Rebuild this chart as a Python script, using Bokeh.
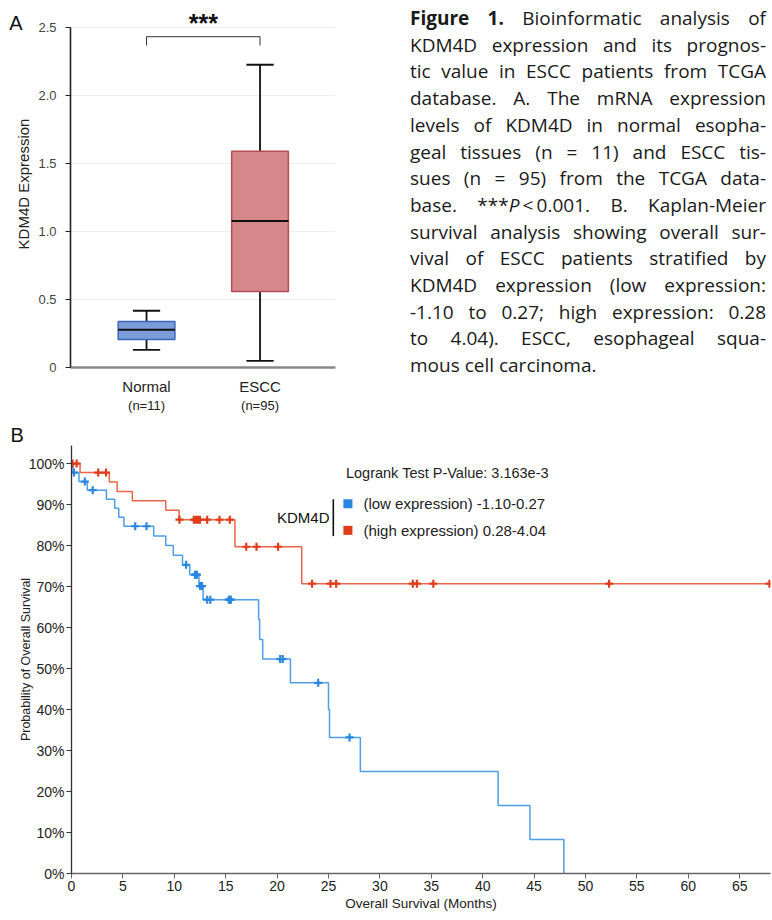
import numpy as np
from bokeh.plotting import figure
from bokeh.models import Label, BoxAnnotation, FixedTicker, Div, Range1d, LinearAxis
from bokeh.layouts import column, row
from bokeh.embed import file_html
from bokeh.resources import INLINE

FONT = "Liberation Sans"

# ---------------- Panel A data (box plot) ----------------
groups = ["Normal", "ESCC"]
group_n = ["(n=11)", "(n=95)"]
box_lower = [0.130, 0.049]
box_q1 = [0.206, 0.559]
box_median = [0.277, 1.076]
box_q3 = [0.338, 1.588]
box_upper = [0.417, 2.224]
box_fill = ["#7b9cd9", "#d6878a"]
box_edge = ["#3d66bb", "#b24d52"]
a_yticks = [0, 0.5, 1.0, 1.5, 2.0, 2.5]
a_ytick_labels = ["0", "0.5", "1.0", "1.5", "2.0", "2.5"]
signif_text = "***"

# ---------------- Panel B data (Kaplan-Meier) ----------------
low_event_times = [0.15, 0.73, 1.54, 3.4, 4.2, 4.6, 5.1, 8.0, 9.17, 9.9, 10.8, 11.5,
                   12.4, 12.8, 18.2, 18.3, 18.6, 21.3, 25.0, 25.1, 28.1, 41.5, 44.6, 47.9]
low_surv = [97.8, 95.6, 93.5, 91.3, 89.1, 86.9, 84.7, 82.3, 80.0, 77.6, 75.3, 72.9,
            70.1, 66.8, 62.0, 57.1, 52.3, 46.5, 40.0, 33.2, 24.9, 16.6, 8.3, 0.0]
low_censor_times = [0.24, 1.3, 2.06, 6.2, 7.3, 11.15, 12.0, 12.1, 12.2, 12.5, 12.7,
                    13.2, 13.5, 15.3, 15.4, 15.5, 20.3, 20.55, 24.0, 27.05]
high_event_times = [0.83, 3.68, 4.44, 5.92, 9.17, 10.47, 15.9, 22.4]
high_surv = [97.8, 95.5, 93.2, 90.9, 88.6, 86.3, 79.7, 70.7]
high_censor_times = [0.1, 0.5, 2.6, 3.36, 10.5, 11.9, 12.1, 12.3, 12.5, 13.2, 14.4, 15.4,
                     17.0, 18.0, 20.1, 23.4, 25.2, 25.75, 33.2, 33.6, 35.2, 52.3, 67.9]
b_xticks = [0, 5, 10, 15, 20, 25, 30, 35, 40, 45, 50, 55, 60, 65]
b_yticks = [0, 10, 20, 30, 40, 50, 60, 70, 80, 90, 100]
legend_title = "KDM4D"
legend_labels = ["(low expression) -1.10-0.27", "(high expression) 0.28-4.04"]
pvalue_text = "Logrank Test P-Value: 3.163e-3"
low_line, low_mark = "#4d9de9", "#2a86df"
high_line, high_mark = "#e8664a", "#e03c1c"

caption_lines = [
    "<b>Figure 1.</b> Bioinformatic analysis of",
    "KDM4D expression and its prognos-",
    "tic value in ESCC patients from TCGA",
    "database. A. The mRNA expression",
    "levels of KDM4D in normal esopha-",
    "geal tissues (n = 11) and ESCC tis-",
    "sues (n = 95) from the TCGA data-",
    "base. ***<i>P</i>&thinsp;&lt;&thinsp;0.001. B. Kaplan-Meier",
    "survival analysis showing overall sur-",
    "vival of ESCC patients stratified by",
    "KDM4D expression (low expression:",
    "-1.10 to 0.27; high expression: 0.28",
    "to 4.04). ESCC, esophageal squa-",
    "mous cell carcinoma.",
]

# ================= Panel A =================
xs = list(range(1, len(groups) + 1))
A_YMAX = 2.5
A_TOP_PAD = 0.196          # headroom above the axis for the significance mark
pa = figure(width=400, height=420, x_range=Range1d(0.33, 2.665),
            y_range=Range1d(0, A_YMAX + A_TOP_PAD),
            output_backend="svg", toolbar_location=None,
            min_border_left=70, min_border_right=65, min_border_top=0, min_border_bottom=53)
pa.outline_line_color = None
pa.xgrid.visible = False
pa.ygrid.ticker = FixedTicker(ticks=a_yticks)
pa.ygrid.grid_line_color = "#eeeeee"
pa.yaxis.bounds = (0, A_YMAX)
pa.yaxis.ticker = FixedTicker(ticks=a_yticks)
pa.yaxis.major_label_overrides = {float(k): v for k, v in zip(a_yticks, a_ytick_labels)}
pa.yaxis.axis_label = "KDM4D Expression"
pa.yaxis.axis_label_text_font = FONT
pa.yaxis.axis_label_text_font_size = "15px"
pa.yaxis.axis_label_text_font_style = "normal"
pa.yaxis.axis_label_text_color = "#222222"
pa.yaxis.axis_label_standoff = 3
pa.yaxis.major_label_text_font = FONT
pa.yaxis.major_label_text_font_size = "13px"
pa.yaxis.major_label_text_color = "#444444"
pa.yaxis.major_label_standoff = 9
pa.yaxis.axis_line_color = "#222222"
pa.yaxis.axis_line_width = 1.6
pa.yaxis.major_tick_line_color = "#222222"
pa.yaxis.major_tick_out = 5
pa.yaxis.major_tick_in = 0
pa.yaxis.minor_tick_line_color = None

pa.xaxis.ticker = FixedTicker(ticks=xs)
pa.xaxis.major_label_overrides = {float(x): g for x, g in zip(xs, groups)}
pa.xaxis.major_label_text_font = FONT
pa.xaxis.major_label_text_font_size = "15px"
pa.xaxis.major_label_text_color = "#222222"
pa.xaxis.major_label_standoff = 10
pa.xaxis.axis_line_color = "#888888"
pa.xaxis.axis_line_width = 2.5
pa.xaxis.major_tick_line_color = None
pa.xaxis.minor_tick_line_color = None
pa.xaxis.major_tick_out = 0
pa.xaxis.major_tick_in = 0
pa.xaxis.minor_tick_out = 0
pa.xaxis.minor_tick_in = 0

# second row of category labels: sample sizes
n_axis = LinearAxis(ticker=FixedTicker(ticks=xs),
                    major_label_overrides={float(x): n for x, n in zip(xs, group_n)},
                    axis_line_color=None, major_tick_line_color=None, minor_tick_line_color=None,
                    major_tick_out=0, major_tick_in=0, minor_tick_out=0, minor_tick_in=0,
                    major_label_text_font=FONT, major_label_text_font_size="13px",
                    major_label_text_color="#222222", major_label_standoff=0)
pa.add_layout(n_axis, "below")

# panel letter "A" as an outer left axis label
A_LETTER_Y = 2.531
letter_axis = LinearAxis(ticker=FixedTicker(ticks=[A_LETTER_Y]),
                         major_label_overrides={A_LETTER_Y: "A"},
                         axis_line_color=None, major_tick_line_color=None, minor_tick_line_color=None,
                         major_tick_out=0, major_tick_in=0, minor_tick_out=0, minor_tick_in=0,
                         major_label_text_font=FONT, major_label_text_font_size="20px",
                         major_label_text_color="#111111", major_label_standoff=-10)
pa.add_layout(letter_axis, "left")

# whiskers
pa.segment(x0=xs, y0=box_q3, x1=xs, y1=box_upper, line_color="#111111", line_width=1.8)
pa.segment(x0=xs, y0=box_lower, x1=xs, y1=box_q1, line_color="#111111", line_width=1.8)
cap_half = 0.12
pa.segment(x0=[x - cap_half for x in xs], y0=box_upper, x1=[x + cap_half for x in xs], y1=box_upper,
           line_color="#111111", line_width=1.8)
pa.segment(x0=[x - cap_half for x in xs], y0=box_lower, x1=[x + cap_half for x in xs], y1=box_lower,
           line_color="#111111", line_width=1.8)
# boxes
pa.vbar(x=xs, bottom=box_q1, top=box_q3, width=0.5, fill_color=box_fill, line_color=box_edge,
        line_width=1.5)
pa.segment(x0=[x - 0.25 for x in xs], y0=box_median, x1=[x + 0.25 for x in xs], y1=box_median,
           line_color="#111111", line_width=2)
# significance bracket
pa.line(x=[xs[0], xs[0], xs[1], xs[1]], y=[2.365, 2.43, 2.43, 2.365], line_color="#333333", line_width=1)
pa.add_layout(Label(x=(xs[0] + xs[1]) / 2, y=2.532, text=signif_text, text_font=FONT,
                    text_font_size="25px", text_font_style="bold", text_align="center",
                    text_baseline="alphabetic", text_color="#111111"))

# ================= Caption =================
html_lines = []
for i, ln in enumerate(caption_lines):
    last = i == len(caption_lines) - 1
    align = "left" if last else "justify"
    html_lines.append(f'<div style="text-align:{align};text-align-last:{align};">{ln}</div>')
caption_html = ('<div style="width:356px;margin-left:10px;padding-top:5px;">'
                + "".join(html_lines) + "</div>")
div = Div(text=caption_html, width=372, height=420, margin=0,
          styles={"overflow": "hidden", "font-family": "Open Sans", "font-size": "19px",
                  "line-height": "26.7px", "color": "#1a1a1a"})

# ================= Panel B =================
pb = figure(width=772, height=500, x_range=Range1d(0, 68), y_range=Range1d(0, 104.4),
            output_backend="svg", toolbar_location=None,
            min_border_left=71, min_border_right=2, min_border_top=25, min_border_bottom=47)
pb.outline_line_color = None
pb.title.text = "B"
pb.title.text_font = FONT
pb.title.text_font_size = "20px"
pb.title.text_font_style = "normal"
pb.title.text_color = "#111111"
pb.title.align = "left"
pb.title.offset = -61
pb.title.standoff = 0
pb.grid.visible = False
pb.xaxis.ticker = FixedTicker(ticks=b_xticks)
pb.yaxis.ticker = FixedTicker(ticks=b_yticks)
pb.yaxis.major_label_overrides = {float(v): f"{v}%" for v in b_yticks}
for ax in (pb.xaxis, pb.yaxis):
    ax.major_label_text_font = FONT
    ax.major_label_text_font_size = "14px"
    ax.major_label_text_color = "#222222"
    ax.axis_label_text_font = FONT
    ax.axis_label_text_font_style = "normal"
    ax.axis_label_text_color = "#222222"
    ax.major_tick_out = 5
    ax.major_tick_in = 0
    ax.minor_tick_line_color = None
    ax.major_label_standoff = 2
pb.yaxis.axis_line_color = "#333333"
pb.yaxis.major_tick_line_color = "#333333"
pb.yaxis.axis_line_width = 1.3
pb.xaxis.axis_line_color = "#666666"
pb.xaxis.major_tick_line_color = "#666666"
pb.xaxis.axis_line_width = 1.6
pb.yaxis.axis_label = "Probability of Overall Survival"
pb.yaxis.axis_label_text_font_size = "12.5px"
pb.yaxis.axis_label_standoff = -7
pb.xaxis.axis_label = "Overall Survival (Months)"
pb.xaxis.axis_label_text_font_size = "13.5px"
pb.xaxis.axis_label_standoff = 2


def km_curve(times, surv, end_time):
    x = [0.0] + list(times)
    y = [100.0] + list(surv)
    if end_time > x[-1]:
        x.append(end_time)
        y.append(y[-1])
    return x, y


def surv_at(t, times, surv):
    idx = np.searchsorted(np.asarray(times), np.asarray(t), side="right")
    return np.r_[100.0, surv][idx]


lx, ly = km_curve(low_event_times, low_surv, max(low_censor_times))
hx, hy = km_curve(high_event_times, high_surv, max(high_censor_times))
pb.step(x=lx, y=ly, mode="after", line_color=low_line, line_width=1.5)
pb.step(x=hx, y=hy, mode="after", line_color=high_line, line_width=1.5)
pb.scatter(x=low_censor_times, y=surv_at(low_censor_times, low_event_times, low_surv),
           marker="cross", size=8, line_width=2.2, line_color=low_mark)
pb.scatter(x=high_censor_times, y=surv_at(high_censor_times, high_event_times, high_surv),
           marker="cross", size=8, line_width=2.2, line_color=high_mark)

# legend / annotation
pb.add_layout(Label(x=26.7, y=97.8, text=pvalue_text, text_font=FONT, text_font_size="14.5px",
                    text_align="left", text_baseline="middle", text_color="#222222"))
pb.add_layout(Label(x=25.1, y=86.8, text=legend_title, text_font=FONT, text_font_size="15px",
                    text_align="right", text_baseline="middle", text_color="#111111"))
pb.line(x=[25.47, 25.47], y=[82.3, 91.3], line_color="#111111", line_width=1.6)
for yy, col, lab in zip([90.2, 83.7], [low_mark, high_mark], legend_labels):
    pb.add_layout(BoxAnnotation(left=26.45, right=27.33, bottom=yy - 1.1, top=yy + 1.1,
                                fill_color=col, fill_alpha=1.0, line_color=None))
    pb.add_layout(Label(x=28.4, y=yy, text=lab, text_font=FONT, text_font_size="15px",
                        text_align="left", text_baseline="middle", text_color="#222222"))

layout = column(row(pa, div, spacing=0), pb, spacing=0)
open("out.html", "w").write(file_html(layout, INLINE))
